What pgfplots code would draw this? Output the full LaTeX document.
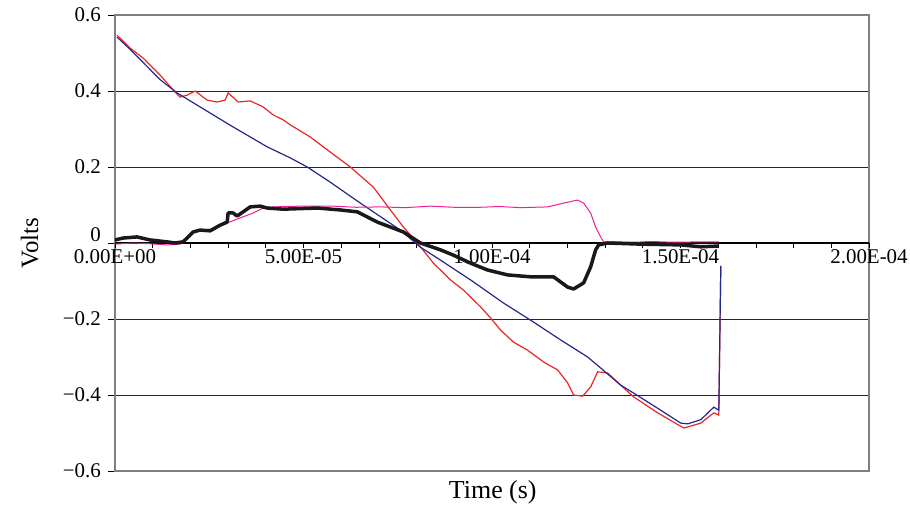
\documentclass[border=0pt]{standalone}
\usepackage{pgfplots}
\pgfplotsset{compat=1.18}
\usepackage{fontspec}
\setmainfont{Liberation Serif}

\definecolor{tracered}{RGB}{238,36,36}
\definecolor{traceblue}{RGB}{36,40,140}
\definecolor{tracepink}{RGB}{240,30,150}
\definecolor{tracedark}{RGB}{25,25,25}

\pgfplotsset{
  commonframe/.style={
    scale only axis, width=754bp, height=456bp,
    xmin=0, xmax=2e-4, ymin=-0.6, ymax=0.6,
  },
}

\begin{document}
\begin{tikzpicture}
% frame, horizontal grid and voltage ticks
\begin{axis}[commonframe,
  axis line style={draw=black!50, line width=1.3bp},
  xtick=\empty,
  ytick={-0.6,-0.4,-0.2,0,0.2,0.4,0.6},
  yticklabels={−0.6,−0.4,−0.2,\raisebox{1bp}[0pt][0pt]{0},0.2,0.4,0.6},
  ytick pos=left, tick align=outside, major tick length=7bp,
  ytick style={black, line width=0.8bp},
  ymajorgrids, major grid style={black!85, line width=0.9bp},
  yticklabel style={font=\fontsize{21}{25}\selectfont, inner sep=1bp, xshift=-6bp},
  ylabel={Volts}, xlabel={Time (s)},
  every axis y label/.style={at={(axis description cs:-0.113,0.5)}, rotate=90, anchor=center, font=\fontsize{25}{30}\selectfont},
  every axis x label/.style={at={(axis description cs:0.501,-0.046)}, anchor=center, font=\fontsize{26}{30}\selectfont},
]
\coordinate (sw) at (rel axis cs:0,0);
\end{axis}

% time axis through zero and the four traces
\begin{axis}[commonframe,
  axis x line*=middle, axis y line=none,
  x axis line style={black, line width=1.1bp, -},
  xtick={0,5e-5,1e-4,1.5e-4,2e-4},
  xticklabels={0.00E+00,5.00E-05,1.00E-04,1.50E-04,2.00E-04},
  scaled x ticks=false,
  hide obscured x ticks=false,
  minor x tick num=4,
  xtick align=outside,
  major tick length=5bp, minor tick length=5bp,
  xtick style={black, line width=0.8bp},
  minor x tick style={black, line width=0.8bp},
  xticklabel style={font=\fontsize{21}{25}\selectfont, inner sep=1bp},
]
\addplot[tracered, line width=1.2bp] coordinates {
(0.053e-5,0.547) (0.186e-5,0.534) (0.398e-5,0.513) (0.744e-5,0.487)
(1.195e-5,0.442) (1.594e-5,0.397) (1.726e-5,0.384) (1.912e-5,0.389)
(2.125e-5,0.400) (2.444e-5,0.376) (2.709e-5,0.371) (2.922e-5,0.376)
(3.001e-5,0.395) (3.267e-5,0.371) (3.586e-5,0.374) (3.931e-5,0.358)
(4.197e-5,0.337) (4.462e-5,0.324) (4.648e-5,0.311) (5.179e-5,0.279)
(5.525e-5,0.253) (6.242e-5,0.200) (6.853e-5,0.147) (7.304e-5,0.087)
(7.649e-5,0.042) (8.021e-5,0.000) (8.446e-5,-0.053) (8.898e-5,-0.097)
(9.243e-5,-0.124) (9.695e-5,-0.168) (9.960e-5,-0.197) (10.226e-5,-0.229)
(10.571e-5,-0.261) (10.943e-5,-0.282) (11.368e-5,-0.313) (11.740e-5,-0.334)
(12.005e-5,-0.368) (12.165e-5,-0.400) (12.404e-5,-0.403) (12.616e-5,-0.379)
(12.802e-5,-0.339) (13.068e-5,-0.342) (13.413e-5,-0.374) (13.758e-5,-0.405)
(14.396e-5,-0.447) (15.086e-5,-0.487) (15.538e-5,-0.474) (15.883e-5,-0.447)
(16.016e-5,-0.453) (16.069e-5,-0.060)
};
\addplot[traceblue, line width=1.2bp] coordinates {
(0.053e-5,0.542) (0.398e-5,0.510) (0.797e-5,0.470) (1.195e-5,0.430)
(1.647e-5,0.395) (2.258e-5,0.358) (3.054e-5,0.310) (4.037e-5,0.253)
(4.648e-5,0.224) (5.100e-5,0.200) (5.710e-5,0.160) (6.507e-5,0.105)
(7.570e-5,0.034) (8.101e-5,-0.011) (8.632e-5,-0.045) (9.429e-5,-0.097)
(10.305e-5,-0.158) (11.023e-5,-0.203) (11.819e-5,-0.255) (12.537e-5,-0.300)
(12.882e-5,-0.329) (13.413e-5,-0.374) (13.758e-5,-0.395) (14.475e-5,-0.440)
(15.007e-5,-0.474) (15.193e-5,-0.476) (15.538e-5,-0.465) (15.883e-5,-0.432)
(16.016e-5,-0.440) (16.069e-5,-0.060)
};
\addplot[tracepink, line width=1.0bp] coordinates {
(0.000e-5,-0.003) (0.478e-5,0.000) (0.930e-5,-0.002) (1.381e-5,-0.005)
(1.726e-5,-0.003) (1.912e-5,0.008) (2.072e-5,0.029) (2.258e-5,0.034)
(2.603e-5,0.037) (2.975e-5,0.053) (3.320e-5,0.066) (3.665e-5,0.079)
(3.931e-5,0.092) (4.197e-5,0.095) (4.914e-5,0.097) (5.790e-5,0.097)
(6.400e-5,0.094) (7.039e-5,0.095) (7.700e-5,0.093) (8.367e-5,0.097)
(9.000e-5,0.094) (9.695e-5,0.094) (10.200e-5,0.096) (10.757e-5,0.093)
(11.474e-5,0.095) (11.899e-5,0.105) (12.271e-5,0.113) (12.430e-5,0.105)
(12.616e-5,0.079) (12.749e-5,0.042) (12.882e-5,0.016) (12.961e-5,0.003)
(13.227e-5,0.003) (13.800e-5,0.002) (14.210e-5,0.004) (14.800e-5,0.002)
(15.538e-5,0.003) (16.016e-5,0.003)
};
\addplot[tracedark, line width=3.5bp, line join=round] coordinates {
(0.000e-5,0.008) (0.212e-5,0.013) (0.584e-5,0.016) (0.930e-5,0.008)
(1.381e-5,0.003) (1.594e-5,0.000) (1.806e-5,0.003) (1.939e-5,0.016)
(2.072e-5,0.029) (2.258e-5,0.034) (2.523e-5,0.032) (2.789e-5,0.047)
(2.975e-5,0.055) (3.001e-5,0.079) (3.134e-5,0.079) (3.240e-5,0.071)
(3.400e-5,0.082) (3.586e-5,0.095) (3.851e-5,0.097) (4.037e-5,0.092)
(4.462e-5,0.089) (5.365e-5,0.092) (5.976e-5,0.087) (6.428e-5,0.082)
(6.959e-5,0.055) (7.304e-5,0.042) (7.649e-5,0.029) (8.101e-5,0.000)
(8.632e-5,-0.018) (8.977e-5,-0.032) (9.429e-5,-0.053) (9.880e-5,-0.071)
(10.412e-5,-0.084) (11.023e-5,-0.089) (11.633e-5,-0.089) (12.005e-5,-0.116)
(12.165e-5,-0.121) (12.430e-5,-0.105) (12.616e-5,-0.063) (12.749e-5,-0.018)
(12.829e-5,-0.005) (13.068e-5,0.000) (13.944e-5,-0.003) (15.007e-5,-0.005)
(15.538e-5,-0.010) (16.016e-5,-0.008)
};
\end{axis}
\pgfresetboundingbox
\path (sw) ++(-115bp,-37bp) rectangle ++(910bp,508bp);
\end{tikzpicture}
\end{document}
